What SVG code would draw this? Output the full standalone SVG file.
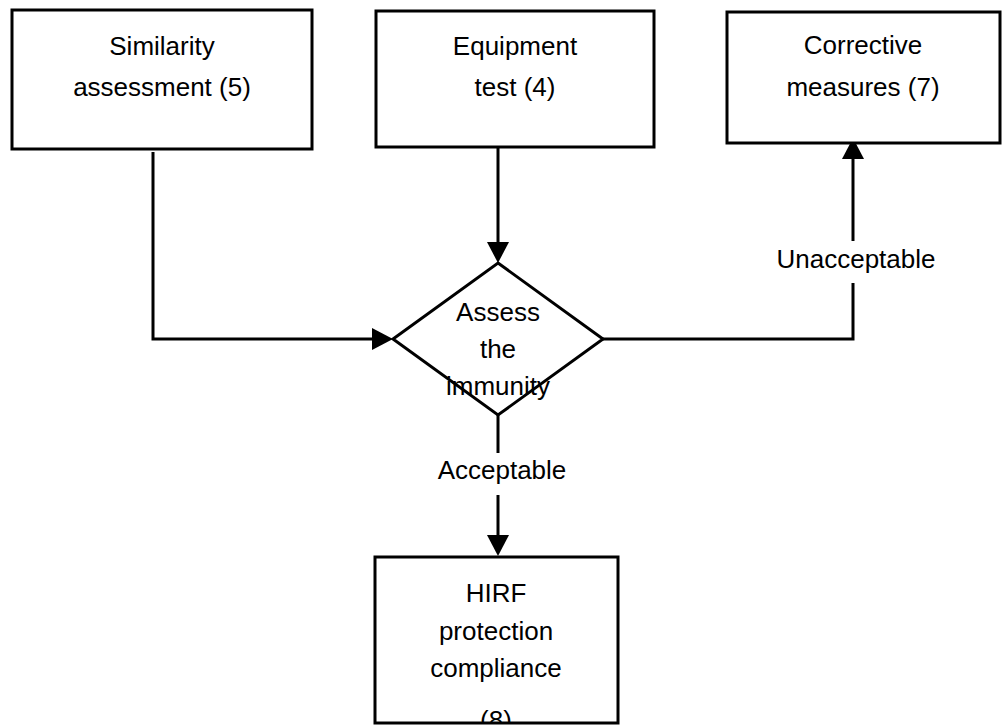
<svg xmlns="http://www.w3.org/2000/svg" width="1005" height="726" viewBox="0 0 1005 726">
<style>
.box{fill:#fff;stroke:#000;stroke-width:3}
.ln{fill:none;stroke:#000;stroke-width:3}
.t{font-family:"Liberation Sans",Arial,sans-serif;font-size:26px;fill:#000;text-anchor:middle}
</style>
<defs>
<marker id="ah" viewBox="0 0 21 22" refX="0" refY="11" markerWidth="21" markerHeight="22" markerUnits="userSpaceOnUse" orient="auto">
<path d="M0,0 L21,11 L0,22 Z" fill="#000"/>
</marker>
<clipPath id="c8"><rect x="376" y="558" width="241" height="164"/></clipPath>
</defs>
<rect width="1005" height="726" fill="#fff"/>
<g id="connectors">
<path class="ln" d="M153,152 V339 H372" marker-end="url(#ah)"/>
<path class="ln" d="M498,147 V242" marker-end="url(#ah)"/>
<path class="ln" d="M603,339 H853 V283"/>
<path class="ln" d="M853,241 V159" marker-end="url(#ah)"/>
<path class="ln" d="M498,415 V453"/>
<path class="ln" d="M498,495 V535" marker-end="url(#ah)"/>
<text class="t" x="856" y="268">Unacceptable</text>
<text class="t" x="502" y="479">Acceptable</text>
</g>
<g id="similarity">
<rect class="box" x="12" y="10" width="300" height="139"/>
<text class="t" x="162" y="55">Similarity</text>
<text class="t" x="162" y="96">assessment (5)</text>
</g>
<g id="equipment">
<rect class="box" x="376" y="11" width="278" height="136"/>
<text class="t" x="515" y="55">Equipment</text>
<text class="t" x="515" y="96">test (4)</text>
</g>
<g id="corrective">
<rect class="box" x="727" y="12" width="273" height="131"/>
<text class="t" x="863" y="54">Corrective</text>
<text class="t" x="863" y="96">measures (7)</text>
</g>
<g id="assess">
<polygon class="box" points="498,263 603,339 498,415 393,339"/>
<text class="t" x="498" y="321">Assess</text>
<text class="t" x="498" y="358">the</text>
<text class="t" x="498" y="395">immunity</text>
</g>
<g id="hirf">
<rect class="box" x="375" y="557" width="243" height="166"/>
<text class="t" x="496" y="602">HIRF</text>
<text class="t" x="496" y="640">protection</text>
<text class="t" x="496" y="677">compliance</text>
<text class="t" x="496" y="729" clip-path="url(#c8)">(8)</text>
</g>
</svg>
